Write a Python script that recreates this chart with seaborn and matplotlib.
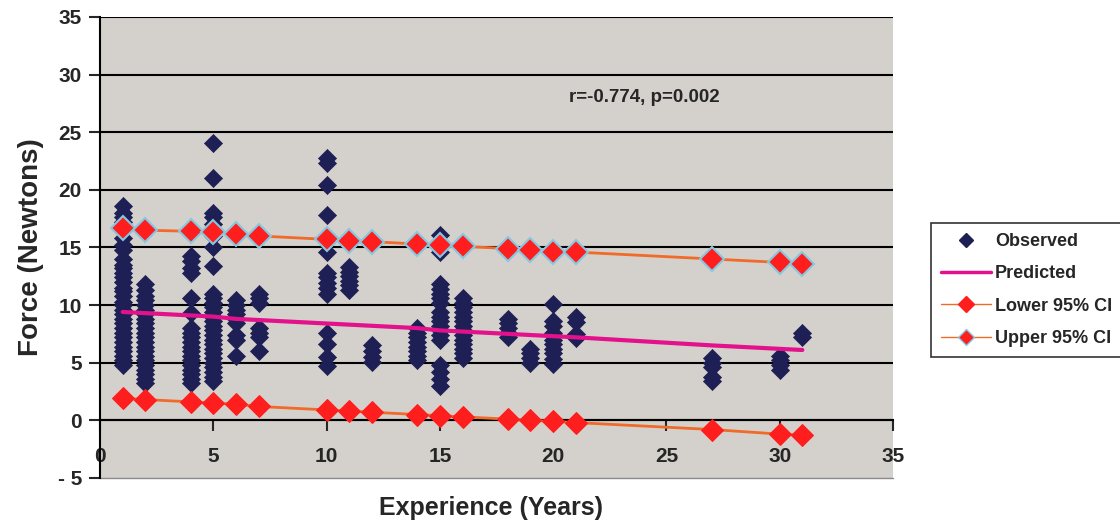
import pandas as pd
import seaborn as sns
import matplotlib.pyplot as plt
from matplotlib.lines import Line2D

# observed force values per years of experience
obs = {
    1: [18.6, 18.0, 17.6, 17.2, 16.5, 15.8, 15.2, 14.8, 14.0, 13.5, 13.2, 12.8, 12.4, 12.0, 11.5, 11.2,
        10.8, 10.3, 10.0, 9.6, 9.2, 8.8, 8.4, 8.0, 7.6, 7.2, 6.8, 6.4, 6.0, 5.6, 5.2, 4.8],
    2: [11.8, 11.3, 10.8, 10.4, 10.0, 9.6, 9.2, 8.8, 8.4, 8.0, 7.6, 7.2, 6.8, 6.4, 6.0, 5.6, 5.2,
        4.8, 4.4, 4.0, 3.6, 3.2],
    4: [14.3, 13.8, 13.2, 12.8, 10.6, 9.3, 8.0, 7.6, 7.2, 6.8, 6.4, 6.0, 5.6, 5.2, 4.8, 4.4, 4.0, 3.6, 3.2],
    5: [24.1, 21.0, 18.0, 17.6, 17.0, 16.0, 15.0, 13.4, 11.0, 10.6, 10.2, 9.8, 9.4, 9.0, 8.6, 8.2, 7.8,
        7.4, 7.0, 6.6, 6.2, 5.8, 5.4, 5.0, 4.6, 4.2, 3.8, 3.4],
    6: [10.4, 10.0, 9.6, 9.2, 8.8, 8.4, 7.4, 7.0, 5.6],
    7: [11.0, 10.6, 10.2, 8.0, 7.6, 7.2, 6.0],
    10: [22.8, 22.3, 20.4, 17.8, 15.6, 14.6, 12.8, 12.4, 11.9, 11.5, 11.0, 7.6, 6.6, 5.5, 4.7],
    11: [13.3, 12.9, 12.5, 12.1, 11.7, 11.3],
    12: [6.5, 6.0, 5.5, 5.1],
    14: [8.0, 7.6, 7.2, 6.8, 6.4, 6.0, 5.6, 5.2],
    15: [16.1, 14.6, 11.8, 11.4, 11.0, 10.6, 10.2, 9.4, 9.0, 8.6, 8.2, 7.8, 7.4, 7.0, 4.8, 4.2, 3.6, 3.0],
    16: [10.6, 10.2, 9.8, 9.4, 9.0, 8.6, 8.2, 7.8, 7.4, 7.0, 6.6, 6.2, 5.8, 5.4],
    18: [8.8, 8.4, 8.0, 7.6, 7.2],
    19: [6.2, 5.8, 5.4, 5.0],
    20: [10.1, 8.6, 8.2, 7.6, 7.0, 6.6, 6.2, 5.8, 5.3, 4.9],
    21: [9.0, 8.5, 7.5, 7.1],
    27: [5.4, 5.0, 4.6, 3.8, 3.4],
    30: [5.6, 5.2, 4.8, 4.4],
    31: [7.6, 7.2],
}

years = [1, 2, 4, 5, 6, 7, 10, 11, 12, 14, 15, 16, 18, 19, 20, 21, 27, 30, 31]
predicted = [9.4, 9.3, 9.1, 9.0, 8.8, 8.7, 8.4, 8.3, 8.2, 8.0, 7.8, 7.7, 7.5, 7.4, 7.3, 7.2, 6.5, 6.2, 6.1]
lower_ci = [1.9, 1.8, 1.6, 1.5, 1.4, 1.2, 0.9, 0.8, 0.7, 0.5, 0.4, 0.3, 0.1, 0.0, -0.1, -0.2, -0.8, -1.2, -1.3]
upper_ci = [16.7, 16.5, 16.4, 16.3, 16.2, 16.0, 15.7, 15.6, 15.5, 15.3, 15.2, 15.1, 14.9, 14.8, 14.6,
            14.6, 14.0, 13.7, 13.6]

obs_df = pd.DataFrame([(x, v) for x, vals in obs.items() for v in vals], columns=['Experience', 'Force'])
fit_df = pd.DataFrame({'Experience': years, 'Predicted': predicted,
                       'Lower': lower_ci, 'Upper': upper_ci})

sns.set_style('white')
plt.rcParams['font.family'] = ['Liberation Sans', 'DejaVu Sans']
plt.rcParams['font.weight'] = 'bold'

fig = plt.figure(figsize=(11.2, 5.31), dpi=100)
ax = fig.add_axes([0.0893, 0.1, 0.708, 0.868])
ax.set_facecolor('#d4d1cc')

navy = '#1e1f55'
orange = '#f06a2a'
red = '#ff1e1e'

sns.scatterplot(data=obs_df, x='Experience', y='Force', ax=ax, marker='D', s=85,
                color=navy, edgecolor=navy, linewidth=0.5, zorder=3)
sns.lineplot(data=fit_df, x='Experience', y='Predicted', ax=ax, color='#e3128c', linewidth=3, zorder=4)
sns.lineplot(data=fit_df, x='Experience', y='Lower', ax=ax, color=orange, linewidth=2,
             marker='D', markersize=11, markerfacecolor=red, markeredgecolor=red, zorder=5)
sns.lineplot(data=fit_df, x='Experience', y='Upper', ax=ax, color=orange, linewidth=2,
             marker='D', markersize=12, markerfacecolor=red, markeredgecolor='#86c8e0',
             markeredgewidth=1.5, zorder=5)

ax.set_xlim(0, 35)
ax.set_ylim(-5, 35)
ax.set_yticks(range(-5, 36, 5))
ax.set_yticklabels(['- 5'] + [str(v) for v in range(0, 36, 5)])
ax.set_xticks(range(0, 36, 5))
for v in range(0, 36, 5):
    ax.axhline(v, color='black', linewidth=1.5, zorder=1)

ax.spines['bottom'].set_position(('data', 0))
ax.spines['bottom'].set_linewidth(1.5)
ax.spines['left'].set_linewidth(1.5)
ax.spines['left'].set_color('black')
ax.spines['bottom'].set_color('black')
ax.spines['top'].set_visible(False)
ax.spines['right'].set_visible(False)
ax.plot([0, 35], [-5, -5], color='#8a8a8a', linewidth=1, clip_on=False, zorder=1)

ax.tick_params(axis='y', direction='out', length=8, width=1.5, labelsize=15, pad=5, left=True)
ax.tick_params(axis='x', direction='out', length=8, width=1.5, labelsize=15, pad=11, bottom=True)
for lab in ax.get_xticklabels() + ax.get_yticklabels():
    lab.set_fontweight('bold')

ax.set_xlabel('')
ax.set_ylabel('Force (Newtons)', fontsize=20, fontweight='bold', labelpad=10)
fig.text(0.438, 0.03, 'Experience (Years)', fontsize=18, fontweight='bold', ha='center')

ax.text(20.7, 27.6, 'r=-0.774, p=0.002', fontsize=13.5, fontweight='bold')

handles = [
    Line2D([], [], linestyle='none', marker='D', markersize=7, color=navy),
    Line2D([], [], color='#e3128c', linewidth=2.5),
    Line2D([], [], color=orange, linewidth=1, marker='D', markersize=8,
           markerfacecolor=red, markeredgecolor=red),
    Line2D([], [], color=orange, linewidth=1, marker='D', markersize=8,
           markerfacecolor=red, markeredgecolor='#86c8e0'),
]
labels = ['Observed', 'Predicted', 'Lower 95% CI', 'Upper 95% CI']
leg = fig.legend(handles, labels, loc='upper left', bbox_to_anchor=(0.831, 0.58),
                 frameon=True, fancybox=False, edgecolor='black', fontsize=13,
                 handlelength=2.8, handletextpad=0.2, borderpad=0.55, labelspacing=0.85,
                 borderaxespad=0)
leg.get_frame().set_linewidth(1.2)
for t in leg.get_texts():
    t.set_fontweight('bold')

fig.savefig('out.png', dpi=100)
